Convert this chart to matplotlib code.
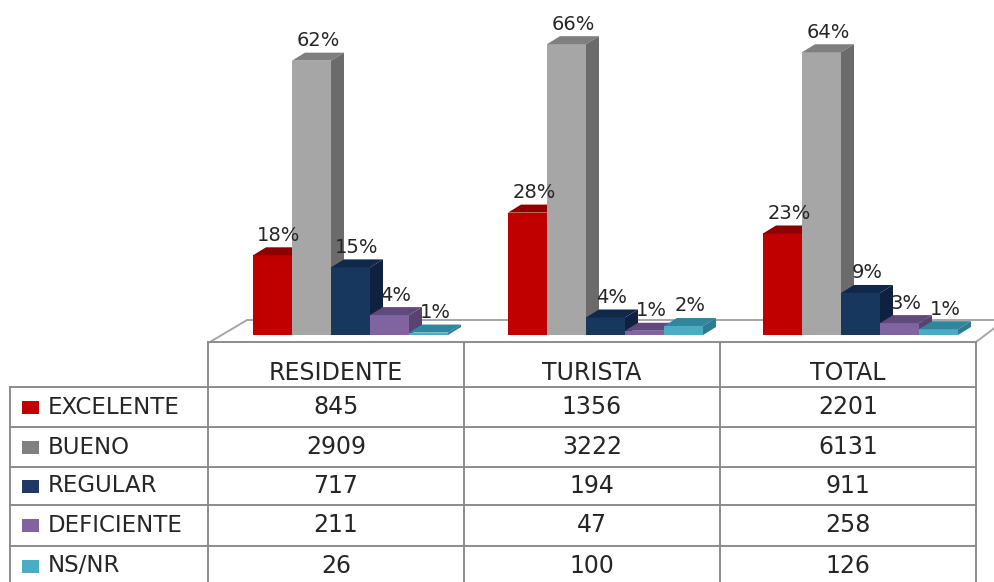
import matplotlib.pyplot as plt
from matplotlib.patches import Polygon, Rectangle

categories = ['RESIDENTE', 'TURISTA', 'TOTAL']
series = ['EXCELENTE', 'BUENO', 'REGULAR', 'DEFICIENTE', 'NS/NR']
excelente = [845, 1356, 2201]
bueno = [2909, 3222, 6131]
regular = [717, 194, 911]
deficiente = [211, 47, 258]
ns_nr = [26, 100, 126]
counts = [excelente, bueno, regular, deficiente, ns_nr]

# front, top, side colours for each series
front_colors = ['#C00000', '#A6A6A6', '#17375E', '#8064A2', '#4BACC6']
top_colors = ['#8E0000', '#7F7F7F', '#10284A', '#604A7B', '#31859C']
side_colors = ['#900000', '#6B6B6B', '#0E2240', '#574270', '#2E7C91']
legend_colors = ['#C00000', '#808080', '#1F3864', '#8064A2', '#4BACC6']

text_color = '#262626'
line_color = '#8C8C8C'

W, H = 995, 582
fig = plt.figure(figsize=(W / 100, H / 100), dpi=100)

# background axes in pixel units for the table and floor
base = fig.add_axes([0, 0, 1, 1])
base.set_xlim(0, W)
base.set_ylim(H, 0)
base.axis('off')

# bar axes: 255 px per group, 4.44 px per percent
px_per_pct = 4.44
bottom_px = 335
ax = fig.add_axes([209.5 / W, (H - bottom_px) / H, 765 / W, bottom_px / H])
ax.set_xlim(-0.5, 2.5)
ax.set_ylim(0, bottom_px / px_per_pct)
ax.axis('off')
ax.patch.set_visible(False)

bar_w = 39 / 255
start = -84 / 255
dx = 13 / 255
dy = 8 / px_per_pct

totals = [sum(c[g] for c in counts) for g in range(len(categories))]

for s in range(len(series)):
    for g in range(len(categories)):
        pct = counts[s][g] / totals[g] * 100
        x = g + start + s * bar_w
        z = 2 + s * 0.1
        ax.bar(x, pct, width=bar_w, align='edge', color=front_colors[s],
               linewidth=0, zorder=z)
        ax.add_patch(Polygon([(x, pct), (x + bar_w, pct), (x + bar_w + dx, pct + dy),
                              (x + dx, pct + dy)], closed=True,
                             facecolor=top_colors[s], linewidth=0, zorder=z))
        ax.add_patch(Polygon([(x + bar_w, 0), (x + bar_w + dx, dy),
                              (x + bar_w + dx, pct + dy), (x + bar_w, pct)], closed=True,
                             facecolor=side_colors[s], linewidth=0, zorder=z))
        ax.text(x + bar_w / 2 + dx / 2, pct + dy + 12 / px_per_pct,
                '%d%%' % round(pct), ha='center', va='center', fontsize=14,
                color=text_color, zorder=10)

# floor outline
lw = 1.4
base.plot([210, 247, 1000], [342, 320, 320], color='#A6A6A6', lw=lw)
base.plot([976, 1005], [342, 320], color='#A6A6A6', lw=lw)

# data table
col_x = [208, 464, 720, 976]
row_y = [387, 427, 467, 505, 546, 586]
base.plot([208, 976], [342, 342], color=line_color, lw=lw)
for y in row_y[:-1]:
    base.plot([10, 976], [y, y], color=line_color, lw=lw)
for x in col_x:
    base.plot([x, x], [342, H], color=line_color, lw=lw)
base.plot([10, 10], [387, H], color=line_color, lw=lw)

for g, cat in enumerate(categories):
    cx = (col_x[g] + col_x[g + 1]) / 2
    base.text(cx, 373, cat, ha='center', va='center', fontsize=17, color=text_color)
    for s in range(len(series)):
        cy = (row_y[s] + row_y[s + 1]) / 2
        base.text(cx, cy, str(counts[s][g]), ha='center', va='center',
                  fontsize=17, color=text_color)

for s, name in enumerate(series):
    cy = (row_y[s] + row_y[s + 1]) / 2
    base.add_patch(Rectangle((22, cy - 6.5), 17, 13, facecolor=legend_colors[s],
                             linewidth=0))
    base.text(48, cy, name, ha='left', va='center', fontsize=16.5, color=text_color)

fig.savefig('out.png', dpi=100)
